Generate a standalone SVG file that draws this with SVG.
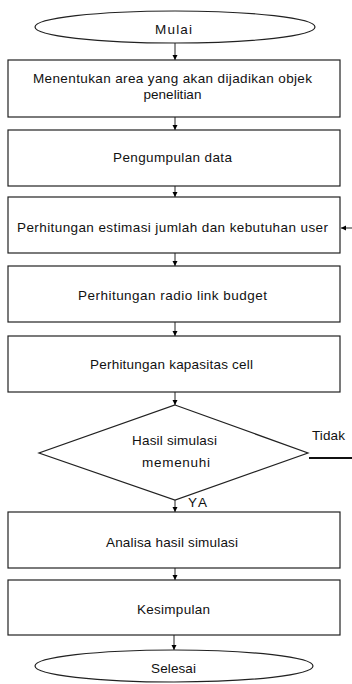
<svg xmlns="http://www.w3.org/2000/svg" width="352" height="684" viewBox="0 0 352 684">
<defs>
<marker id="ah" markerWidth="6" markerHeight="6" refX="5" refY="3" orient="auto" markerUnits="userSpaceOnUse">
<path d="M0,0.5 L5,3 L0,5.5 Z" fill="#000"/>
</marker>
</defs>
<style>
.n{fill:#fff;stroke:#222;stroke-width:1.2}
.t{font-family:"Liberation Sans",Arial,sans-serif;font-size:13.5px;fill:#111;text-anchor:middle}
.c{stroke:#222;stroke-width:1;fill:none}
</style>
<rect width="352" height="684" fill="#fff"/>
<g id="connectors">
<line class="c" x1="175" y1="43" x2="175" y2="60" marker-end="url(#ah)"/>
<line class="c" x1="175" y1="117" x2="175" y2="130" marker-end="url(#ah)"/>
<line class="c" x1="175" y1="186" x2="175" y2="197" marker-end="url(#ah)"/>
<line class="c" x1="175" y1="253" x2="175" y2="266" marker-end="url(#ah)"/>
<line class="c" x1="175" y1="322" x2="175" y2="336" marker-end="url(#ah)"/>
<line class="c" x1="175" y1="392" x2="175" y2="405" marker-end="url(#ah)"/>
<line class="c" x1="175" y1="500" x2="175" y2="512" marker-end="url(#ah)"/>
<line class="c" x1="175" y1="568" x2="175" y2="580" marker-end="url(#ah)"/>
<line class="c" x1="174" y1="635" x2="174" y2="650" marker-end="url(#ah)"/>
<line stroke="#111" stroke-width="2" x1="309" y1="458" x2="352" y2="458"/>
<line class="c" x1="352" y1="228" x2="341" y2="228" marker-end="url(#ah)"/>
<text class="t" x="328.5" y="440" textLength="33">Tidak</text>
<text class="t" x="197.5" y="507" textLength="19">YA</text>
</g>
<g id="mulai"><ellipse class="n" cx="175" cy="27" rx="140" ry="16"/><text class="t" x="173.5" y="34" textLength="37">Mulai</text></g>
<g id="area"><rect class="n" x="8" y="60" width="332" height="57"/><text class="t" x="172.5" y="83" textLength="279">Menentukan area yang akan dijadikan objek</text><text class="t" x="172.5" y="99">penelitian</text></g>
<g id="data"><rect class="n" x="8" y="130" width="332" height="56"/><text class="t" x="172.5" y="162" textLength="119">Pengumpulan data</text></g>
<g id="estimasi"><rect class="n" x="8" y="197" width="332" height="56"/><text class="t" x="172.5" y="232" textLength="311">Perhitungan estimasi jumlah dan kebutuhan user</text></g>
<g id="rlb"><rect class="n" x="8" y="266" width="332" height="56"/><text class="t" x="172.5" y="300" textLength="189">Perhitungan radio link budget</text></g>
<g id="kapasitas"><rect class="n" x="8" y="336" width="332" height="56"/><text class="t" x="171.5" y="369" textLength="163">Perhitungan kapasitas cell</text></g>
<g id="keputusan"><polygon class="n" points="175,405 308,453 175,500 39,453"/><text class="t" x="174.5" y="445" textLength="85">Hasil simulasi</text><text class="t" x="176" y="467" textLength="68">memenuhi</text></g>
<g id="analisa"><rect class="n" x="8" y="512" width="332" height="56"/><text class="t" x="172" y="547" textLength="132">Analisa hasil simulasi</text></g>
<g id="kesimpulan"><rect class="n" x="8" y="580" width="332" height="55"/><text class="t" x="173.5" y="614" textLength="73">Kesimpulan</text></g>
<g id="selesai"><ellipse class="n" cx="174" cy="666" rx="139" ry="16"/><text class="t" x="173.5" y="673" textLength="45">Selesai</text></g>
</svg>
